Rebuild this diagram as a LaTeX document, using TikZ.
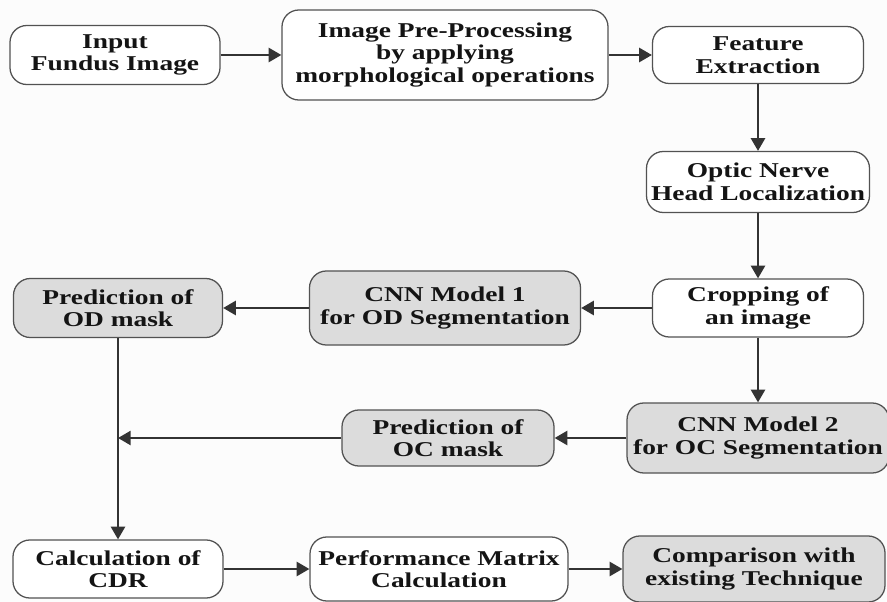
\documentclass[tikz,border=0pt]{standalone}
\usepackage{fontspec}
\usepackage{tikz}
\usetikzlibrary{arrows.meta,shapes}
\newfontfamily\boxfont{Liberation Serif}[FakeStretch=1.3]
\definecolor{edgegray}{HTML}{333333}
\definecolor{boxgray}{HTML}{DCDCDC}

\begin{document}
\begin{tikzpicture}[thick, node distance=3cm, auto]

\tikzstyle{block} = [rectangle, draw=edgegray!85, line width=0.9pt, fill=white,
    align=center, rounded corners=0.42cm, inner sep=2pt, text=black!92,
    font=\boxfont\bfseries\fontsize{15}{16}\selectfont]
\tikzstyle{shaded} = [block, fill=boxgray]
\tikzstyle{line} = [draw=edgegray, line width=1.6pt, -{Triangle[length=9pt,width=10pt]}]

    % page size
    \fill [gray!2] (0,0) rectangle (22.175,-15.05);
    \useasboundingbox (0,0) rectangle (22.175,-15.05);

    % Place nodes
    \node [block, minimum width=5.25cm, minimum height=1.475cm] (input) at (2.875,-1.375) {Input\\Fundus Image};
    \node [block, right of=input, node distance=8.25cm, minimum width=8.15cm, minimum height=2.25cm] (preproc) {Image Pre-Processing\\by applying\\morphological operations};
    \node [block, right of=preproc, node distance=7.825cm, minimum width=5.275cm, minimum height=1.425cm] (feature) {Feature\\Extraction};
    \node [block, below of=feature, node distance=3.175cm, minimum width=5.575cm, minimum height=1.525cm] (onh) {Optic Nerve\\Head Localization};
    \node [block, below of=onh, node distance=3.15cm, minimum width=5.275cm, minimum height=1.45cm] (crop) {Cropping of\\an image};
    \node [shaded, left of=crop, node distance=7.825cm, minimum width=6.775cm, minimum height=1.85cm] (cnnod) {CNN Model 1\\for OD Segmentation};
    \node [shaded, left of=cnnod, node distance=8.175cm, minimum width=5.225cm, minimum height=1.475cm] (odmask) {Prediction of\\OD mask};
    \node [shaded, below of=crop, node distance=3.25cm, minimum width=6.55cm, minimum height=1.75cm] (cnnoc) {CNN Model 2\\for OC Segmentation};
    \node [shaded, left of=cnnoc, node distance=7.75cm, minimum width=5.3cm, minimum height=1.4cm] (ocmask) {Prediction of\\OC mask};
    \node [block, below of=odmask, node distance=6.525cm, minimum width=5.25cm, minimum height=1.45cm] (cdr) {Calculation of\\CDR};
    \node [block, right of=cdr, node distance=8.025cm, minimum width=6.45cm, minimum height=1.6cm] (perf) {Performance Matrix\\Calculation};
    \node [shaded, right of=perf, node distance=7.875cm, minimum width=6.55cm, minimum height=1.65cm] (compare) {Comparison with\\existing Technique};
    \coordinate (join) at (ocmask.west -| odmask.south);

    % Draw edges
    \path [line] (input) -- (preproc);
    \path [line] (preproc) -- (feature);
    \path [line] (feature) -- (onh);
    \path [line] (onh) -- (crop);
    \path [line] (crop) -- (cnnod);
    \path [line] (cnnod) -- (odmask);
    \path [line] (crop) -- (cnnoc);
    \path [line] (cnnoc) -- (ocmask);
    \path [line] (ocmask) -- (join);
    \path [line] (odmask) -- (cdr);
    \path [line] (cdr) -- (perf);
    \path [line] (perf) -- (compare);
\end{tikzpicture}
\end{document}
